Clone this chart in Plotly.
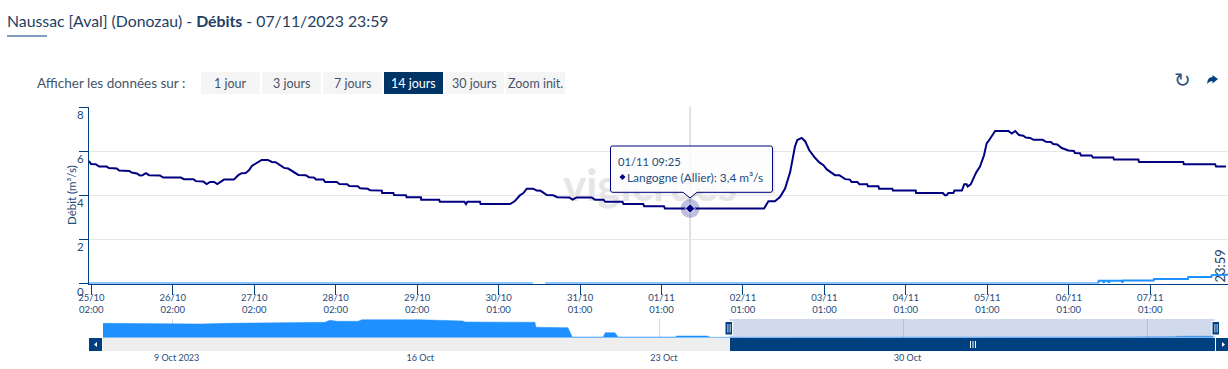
import pandas as pd
import plotly.graph_objects as go

W, H = 1228, 369
FONT = "Lato"
NAVY = "#000080"
BLUE = "#1E90FF"
DARK = "#00407F"
TXT = "#1F4B7C"

TITLE = "Naussac [Aval] (Donozau) - <b>Débits</b> - 07/11/2023 23:59"
BUTTONS = ["1 jour", "3 jours", "7 jours", "14 jours", "30 jours", "Zoom init."]
ACTIVE_BUTTON = "14 jours"

START = pd.Timestamp("2023-10-25 00:00")
NAV_START = pd.Timestamp("2023-10-07 00:00")

# Langogne (Allier), hours after START / m3/s
main_hours = [-0.7, -0.1, 1.3, 2.3, 4.5, 5.2, 7.5, 8.2, 11.2, 11.9, 13.4, 14.3, 15.1, 16.1, 17.0, 20.2, 21.2,
              26.4, 27.3, 30.1, 30.8, 33.0, 34.0, 35.0, 36.2, 37.1, 39.1, 42.0, 43.3, 44.3, 45.5, 46.5, 47.3,
              49.2, 50.2, 52.0, 53.2, 54.3, 56.8, 58.0, 61.0, 63.2, 64.1, 65.7, 66.2, 68.4, 68.9, 72.3, 73.1,
              75.4, 76.0, 78.5, 79.2, 81.4, 82.1, 85.6, 85.7, 89.0, 89.2, 92.7, 92.9, 97.1, 97.2, 102.5, 102.7,
              109.9, 110.4, 110.8, 114.5, 114.7, 123.4, 124.8, 126.3, 127.3, 128.3, 130.2, 131.2, 132.4, 134.2,
              136.1, 137.3, 140.8, 141.8, 143.0, 147.4, 148.4, 150.9, 151.4, 156.5, 156.8, 162.6, 162.9, 168.7,
              169.0, 176.4, 198.2, 199.5, 201.4, 202.9, 204.4, 205.9, 207.3, 208.0, 209.3, 210.3, 211.5, 213.2,
              214.5, 215.7, 216.7, 219.1, 220.4, 222.1, 223.5, 224.0, 225.7, 226.3, 228.6, 228.8, 231.9, 232.1,
              236.0, 236.2, 242.9, 243.0, 250.9, 251.5, 252.0, 252.5, 254.0, 254.3, 256.5, 257.2, 257.9, 258.2,
              259.1, 260.1, 260.7, 261.8, 263.0, 263.8, 264.3, 266.3, 270.2, 271.2, 272.2, 273.3, 274.6, 275.3,
              276.6, 277.6, 280.3, 281.3, 282.7, 283.4, 284.6, 285.9, 287.2, 287.9, 289.5, 289.8, 291.3, 291.6,
              294.7, 295.1, 301.1, 301.3, 308.5, 308.7, 321.7, 321.9, 331.1, 331.4, 334.3]
main_values = [5.55, 5.42, 5.41, 5.30, 5.30, 5.23, 5.21, 5.12, 5.10, 5.03, 4.99, 4.90, 4.91, 5.00, 4.91, 4.90, 4.80,
               4.80, 4.73, 4.73, 4.64, 4.62, 4.51, 4.60, 4.60, 4.51, 4.71, 4.71, 4.91, 5.00, 5.01, 5.14, 5.33,
               5.51, 5.60, 5.60, 5.51, 5.50, 5.24, 5.21, 4.92, 4.91, 4.82, 4.80, 4.71, 4.71, 4.60, 4.60, 4.51,
               4.50, 4.42, 4.41, 4.32, 4.30, 4.23, 4.21, 4.10, 4.10, 4.01, 4.00, 3.91, 3.91, 3.80, 3.80, 3.71,
               3.71, 3.60, 3.71, 3.71, 3.60, 3.60, 3.74, 4.00, 4.10, 4.30, 4.30, 4.21, 4.20, 4.01,
               4.00, 3.91, 3.90, 3.80, 3.90, 3.90, 3.80, 3.80, 3.70, 3.70, 3.60, 3.60, 3.50, 3.50,
               3.40, 3.40, 3.40, 3.73, 3.73, 3.92, 4.30, 5.05, 6.20, 6.50, 6.60, 6.45, 6.05, 5.70,
               5.49, 5.36, 5.17, 4.91, 4.91, 4.73, 4.71, 4.60, 4.60, 4.50, 4.50, 4.41, 4.41, 4.30,
               4.30, 4.21, 4.21, 4.10, 4.10, 4.00, 4.00, 4.10, 4.10, 4.21, 4.21, 4.50, 4.50, 4.40,
               4.49, 4.83, 5.03, 5.29, 5.80, 6.35, 6.45, 6.91, 6.91, 6.80, 6.91, 6.73, 6.70, 6.62,
               6.60, 6.51, 6.51, 6.42, 6.41, 6.32, 6.30, 6.14, 6.09, 6.03, 6.01, 5.91, 5.90, 5.80,
               5.80, 5.71, 5.71, 5.62, 5.62, 5.51, 5.51, 5.41, 5.41, 5.30, 5.30]

# Second series in the main plot (None = gap)
low_hours = [-0.7, 130.1, 130.2, 133.7, 296.6, 296.8, 298.1, 298.3, 298.5, 299.6, 299.8, 300.0, 303.6, 303.8, 304.0,
             313.0, 313.1, 323.1, 323.2, 330.0, 330.1, 334.9]
low_values = [0.0, 0.0, None, 0.0, 0.0, 0.12, 0.12, 0.02, 0.12, 0.12, 0.02, 0.12, 0.12, 0.04, 0.14,
              0.14, 0.20, 0.20, 0.29, 0.29, 0.38, 0.40]

# Navigator series, days after NAV_START / m3/s
nav_days = [0, 2.01, 2.79, 3.56, 4.71, 6.38, 6.52, 6.72, 7.33, 7.44, 9.11, 9.40, 10.34, 10.40, 12.41, 12.44, 13.36,
            13.48, 14.37, 14.43, 14.71, 14.80, 16.44, 16.49, 17.36, 17.44, 29.0, 29.1, 30.8, 30.9, 31.9]
nav_values = [4.36, 4.15, 4.15, 4.36, 4.55, 4.67, 5.27, 4.97, 4.97, 5.45, 5.45, 5.36, 5.06, 4.76, 4.67, 3.15, 3.03,
              0.21, 0.21, 1.52, 1.52, 0.21, 0.21, 0.52, 0.52, 0.12, 0.08, 0.2, 0.3, 0.45, 0.45]

hover_hour = 176.42
hover_value = 3.4
tooltip_time = "01/11 09:25"
tooltip_series = "Langogne (Allier): 3,4 m³/s"

x_tick_hours = [0, 24, 48, 72, 96, 120, 144, 168, 192, 216, 240, 264, 288, 312]
x_tick_text = ["25/10<br>02:00", "26/10<br>02:00", "27/10<br>02:00", "28/10<br>02:00", "29/10<br>02:00",
               "30/10<br>01:00", "31/10<br>01:00", "01/11<br>01:00", "02/11<br>01:00", "03/11<br>01:00",
               "04/11<br>01:00", "05/11<br>01:00", "06/11<br>01:00", "07/11<br>01:00"]
y_ticks = [0, 2, 4, 6, 8]
nav_tick_dates = ["2023-10-09", "2023-10-16", "2023-10-23", "2023-10-30", "2023-11-06"]
nav_tick_text = ["9 Oct 2023", "16 Oct", "23 Oct", "30 Oct", ""]


def hrs(h):
    return START + pd.to_timedelta(h, unit="h")


def PX(x):
    return x / W


def PY(y):
    return 1 - y / H


def rect(x0, y0, x1, y1, fill, line=None, layer="above", lw=1):
    return dict(type="rect", xref="paper", yref="paper", x0=PX(x0), x1=PX(x1), y0=PY(y0), y1=PY(y1),
                fillcolor=fill, line=dict(color=line or fill, width=lw if line else 0), layer=layer)


def poly(points, fill=None, line=None, lw=1):
    p = "M " + " L ".join(f"{PX(a):.5f},{PY(b):.5f}" for a, b in points) + " Z"
    return dict(type="path", xref="paper", yref="paper", path=p, fillcolor=fill or "rgba(0,0,0,0)",
                line=dict(color=line or "rgba(0,0,0,0)", width=lw if line else 0))


def text(x, y, s, size=12, color=TXT, anchor="left", angle=0, family=FONT):
    return dict(xref="paper", yref="paper", x=PX(x), y=PY(y), text=s, showarrow=False, xanchor=anchor,
                yanchor="middle", align=anchor if anchor != "middle" else "center",
                font=dict(size=size, color=color, family=family), textangle=angle, borderpad=0, borderwidth=0)


fig = go.Figure()
fig.add_trace(go.Scatter(x=[hrs(h) for h in low_hours], y=low_values, mode="lines", connectgaps=False,
                         line=dict(color=BLUE, width=2), cliponaxis=False, hoverinfo="skip"))
fig.add_trace(go.Scatter(x=[hrs(h) for h in main_hours], y=main_values, mode="lines",
                         line=dict(color=NAVY, width=2), hoverinfo="skip"))
fig.add_trace(go.Scatter(x=[hrs(hover_hour)], y=[hover_value], mode="markers",
                         marker=dict(symbol="circle", size=19, color="rgba(0,0,128,0.25)", line=dict(width=0)),
                         hoverinfo="skip"))
fig.add_trace(go.Scatter(x=[hrs(hover_hour)], y=[hover_value], mode="markers",
                         marker=dict(symbol="diamond", size=7.5, color=NAVY, line=dict(color="white", width=1)),
                         hoverinfo="skip"))
fig.add_trace(go.Scatter(x=[NAV_START + pd.to_timedelta(d, unit="D") for d in nav_days], y=nav_values,
                         mode="lines", fill="tozeroy", fillcolor=BLUE, line=dict(color=BLUE, width=0.5),
                         xaxis="x2", yaxis="y2", hoverinfo="skip"))

shapes = [
    # watermark, under the curves
    dict(type="rect", xref="paper", yref="paper", x0=PX(555), x1=PX(745), y0=PY(205), y1=PY(160), layer="below",
         fillcolor="rgba(0,0,0,0)", line=dict(width=0),
         label=dict(text="vigicrues", textposition="middle center",
                    font=dict(size=44, color="#E6E6E6", family="Lato", weight="bold"))),
    # crosshair
    dict(type="line", xref="x", yref="paper", x0=hrs(hover_hour), x1=hrs(hover_hour), y0=PY(107), y1=PY(283),
         line=dict(color="#C4C4C4", width=1), layer="below"),
    # title underline
    rect(7, 35.5, 47, 36.5, DARK),
    # navigator mask
    dict(type="rect", xref="x2", yref="paper", x0=pd.Timestamp("2023-10-25"), x1=NAV_START + pd.to_timedelta(31.95, unit="D"),
         y0=PY(319), y1=PY(337.5), fillcolor="rgba(102,133,194,0.3)", line=dict(width=0)),
    # scrollbar
    rect(103, 338, 1215, 351, "#EEEEEE"),
    rect(730, 338, 1215, 351, DARK),
    rect(89, 338, 102, 351, DARK),
    rect(1216, 338, 1228, 351, DARK),
    poly([(94, 344.5), (97, 342), (97, 347)], fill="white"),
    poly([(1225, 344.5), (1222, 342), (1222, 347)], fill="white"),
    rect(970, 341, 971, 348, "white"),
    rect(972.5, 341, 973.5, 348, "white"),
    rect(975, 341, 976, 348, "white"),
    # navigator handles
    rect(725, 321.5, 732.5, 335, DARK, "white"),
    rect(727.5, 324, 728.3, 332.5, "white"),
    rect(729.7, 324, 730.5, 332.5, "white"),
    rect(1212, 321.5, 1219.5, 335, DARK, "white"),
    rect(1214.5, 324, 1215.3, 332.5, "white"),
    rect(1216.7, 324, 1217.5, 332.5, "white"),
    # share icon
    poly([(1218, 79), (1212.5, 75), (1212.5, 77), (1209.5, 77.8), (1207.8, 80), (1207, 84), (1209.5, 81.8),
          (1212.5, 81), (1212.5, 83.5)], fill=DARK),
    # tooltip shadow and box
    poly([(612, 148), (775, 148), (775, 194), (699, 194), (692, 200), (685, 194), (612, 194)],
         fill="rgba(0,0,0,0.07)"),
    dict(type="path", xref="paper", yref="paper", fillcolor="rgba(255,255,255,0.88)", line=dict(color=NAVY, width=1),
         path="M {} {} L {} {} Q {} {} {} {} L {} {} Q {} {} {} {} L {} {} L {} {} L {} {} L {} {} Q {} {} {} {} L {} {} Q {} {} {} {} Z".format(
             *[v for pt in [(612.5, 146), (770.5, 146), (772.5, 146), (772.5, 148), (772.5, 190), (772.5, 192.3),
                            (770.5, 192.3), (697, 192.3), (690, 198), (683, 192.3), (612.5, 192.3), (610.5, 192.3),
                            (610.5, 190), (610.5, 148), (610.5, 146), (612.5, 146)]
               for v in (f"{PX(pt[0]):.5f}", f"{PY(pt[1]):.5f}")])),
    poly([(619.5, 177), (622.5, 174), (625.5, 177), (622.5, 180)], fill=NAVY),
]

annotations = [
    text(7, 21, TITLE, size=15.8, color="#1F3E62"),
    text(37, 83, "Afficher les données sur :", size=13.5, color="#44546A"),
    text(1219.5, 266, "23:59", size=13, color="#1F3E62", anchor="center", angle=-90),
    text(71, 195, "Débit (m³/s)", size=11.5, color=TXT, anchor="center", angle=-90),
    text(618, 162, tooltip_time, size=11.2, color=TXT),
    text(627, 177, tooltip_series, size=11.9, color=TXT),
    text(1182, 80, "↻", size=20, color="#2B5278", anchor="center", family="DejaVu Sans"),
]

bx = 201
for lab in BUTTONS:
    active = lab == ACTIVE_BUTTON
    shapes.append(rect(bx, 72, bx + 59, 94, "#003366" if active else "#F5F5F5"))
    annotations.append(text(bx + 29.5, 83, lab, size=12.5, color="white" if active else "#44546A", anchor="center"))
    bx += 61

fig.update_layout(
    width=W, height=H, autosize=False, showlegend=False, paper_bgcolor="white", plot_bgcolor="white",
    margin=dict(l=0, r=0, t=0, b=0), font=dict(family=FONT, color=TXT, size=11),
    xaxis=dict(domain=[PX(89), 1], range=[hrs(-0.68), hrs(334.9)], type="date", anchor="y",
               tickmode="array", tickvals=[hrs(h) for h in x_tick_hours], ticktext=x_tick_text,
               ticks="outside", ticklen=10, tickcolor=DARK, tickwidth=1, showgrid=False, zeroline=False,
               showline=True, linecolor=DARK, linewidth=1, tickfont=dict(size=9.5, color=TXT), tickangle=0,
               ticklabelstandoff=-5, layer="below traces", automargin=False),
    yaxis=dict(domain=[PY(283.5), PY(107)], range=[0, 8], anchor="x", tickmode="array", tickvals=y_ticks,
               ticktext=[str(v) for v in y_ticks], ticks="outside", ticklen=9, tickcolor=DARK, tickwidth=1,
               gridcolor="#E6E6E6", gridwidth=1, zeroline=False, showline=True, linecolor=DARK, linewidth=1,
               tickfont=dict(size=11.5, color=TXT), ticklabelstandoff=-7, ticklabelshift=8, automargin=False),
    xaxis2=dict(domain=[PX(103), PX(1215)], range=[NAV_START, NAV_START + pd.to_timedelta(31.95, unit="D")],
                type="date", anchor="y2", tickmode="array", tickvals=nav_tick_dates, ticktext=nav_tick_text,
                ticks="", showgrid=True, gridcolor="#D8D8D8", gridwidth=1, zeroline=False, showline=False,
                tickfont=dict(size=9, color=TXT), ticklabelshift=4, ticklabelstandoff=13, tickangle=0,
                automargin=False),
    yaxis2=dict(domain=[PY(337.7), PY(319)], range=[0, 5.67], anchor="x2", showgrid=False, zeroline=False,
                showline=False, showticklabels=False, ticks="", fixedrange=True, automargin=False),
    shapes=shapes, annotations=annotations,
)

fig.write_html("out.html", config=dict(displayModeBar=False),
               post_script="document.body.style.margin='0';document.documentElement.style.overflow='hidden';")
